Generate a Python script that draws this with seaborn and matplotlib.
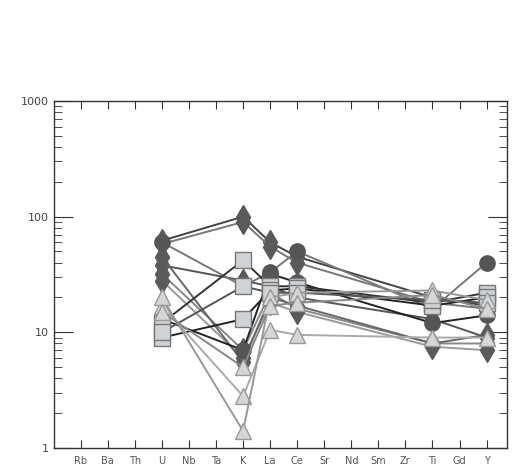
import numpy as np
import pandas as pd
import matplotlib
matplotlib.use("Agg")
import matplotlib.pyplot as plt
import matplotlib.ticker as mticker
import seaborn as sns

elements = ['Rb', 'Ba', 'Th', 'U', 'Nb', 'Ta', 'K', 'La', 'Ce', 'Sr',
            'Nd', 'Sm', 'Zr', 'Ti', 'Gd', 'Y']
measured = ['U', 'K', 'La', 'Ce', 'Ti', 'Y']

# normalised values per sample (U, K, La, Ce, Ti, Y)
d1 = [62, 100, 60, 45, 20, 17]
d2 = [58, 90, 55, 40, 18, 16]
d3 = [38, 28, 25, 20, 13, 9]
d4 = [32, 7, 22, 16, 8, 8]
d5 = [28, 6, 18, 15, 7.5, 7]
d6 = [45, 5.5, 20, 17, 8, 9.5]
c1 = [60, 25, 33, 50, 16, 40]
c2 = [13, 7, 32, 27, 12, 14]
s1 = [12, 42, 25, 25, 18, 22]
s2 = [9, 13, 23, 24, 17, 20]
s3 = [10, 25, 22, 22, 19, 18]
t1 = [17, 2.8, 10.5, 9.5, 9, 9]
t2 = [20, 1.4, 20, 22, 23, 19]
t3 = [15, 5, 17, 18, 21, 16]

samples = {
    'd1': (d1, 'd', '#5a5a5a', '#5a5a5a', '#444444'),
    'd2': (d2, 'd', '#5a5a5a', '#5a5a5a', '#777777'),
    'd3': (d3, 'd', '#5a5a5a', '#5a5a5a', '#555555'),
    'd4': (d4, 'd', '#5a5a5a', '#5a5a5a', '#888888'),
    'd5': (d5, 'd', '#5a5a5a', '#5a5a5a', '#999999'),
    'd6': (d6, 'd', '#5a5a5a', '#5a5a5a', '#666666'),
    'c1': (c1, 'o', '#555555', '#555555', '#777777'),
    'c2': (c2, 'o', '#555555', '#555555', '#222222'),
    's1': (s1, 's', '#cfd3d6', '#777777', '#333333'),
    's2': (s2, 's', '#cfd3d6', '#777777', '#222222'),
    's3': (s3, 's', '#cfd3d6', '#777777', '#555555'),
    't1': (t1, '^', '#d4d6d8', '#999999', '#aaaaaa'),
    't2': (t2, '^', '#d4d6d8', '#999999', '#999999'),
    't3': (t3, '^', '#d4d6d8', '#999999', '#888888'),
}
msizes = {'d': 12, 'o': 11, 's': 11, '^': 11}

sns.set_style("ticks")
plt.rcParams['font.family'] = ['DejaVu Sans']

fig = plt.figure(figsize=(5.12, 4.72), dpi=100)
ax = fig.add_axes([0.105, 0.051, 0.885, 0.735])

xpos = [elements.index(e) + 1 for e in measured]
for name, (vals, mk, fc, ec, lc) in samples.items():
    df = pd.DataFrame({'x': xpos, 'y': vals})
    sns.lineplot(data=df, x='x', y='y', ax=ax, color=lc, linewidth=1.4,
                 marker=mk, markersize=msizes[mk],
                 markerfacecolor=fc, markeredgecolor=ec, markeredgewidth=1.0,
                 sort=False, estimator=None)

ax.set_yscale('log')
ax.set_ylim(1, 1000)
ax.set_xlim(0, 16.75)
ax.set_xticks(range(1, len(elements) + 1))
ax.set_xticklabels(elements)
ax.yaxis.set_major_locator(mticker.FixedLocator([1, 10, 100, 1000]))
ax.yaxis.set_major_formatter(mticker.FixedFormatter(['1', '10', '100', '1000']))
ax.yaxis.set_minor_locator(mticker.LogLocator(base=10, subs=np.arange(2, 10)))
ax.yaxis.set_minor_formatter(mticker.NullFormatter())
ax.set_xlabel('')
ax.set_ylabel('')

for s in ax.spines.values():
    s.set_color('#333333')
    s.set_linewidth(1.0)

ax.tick_params(axis='x', which='major', direction='in', length=6, top=True,
               bottom=True, labelsize=7, colors='#333333', labelcolor='#555555', pad=6)
ax.tick_params(axis='y', which='major', direction='in', length=14, left=True,
               right=True, labelsize=8, colors='#333333', labelcolor='#444444')
ax.tick_params(axis='y', which='minor', direction='in', length=6, left=True,
               right=True, colors='#333333')

fig.savefig('out.png', dpi=100)
